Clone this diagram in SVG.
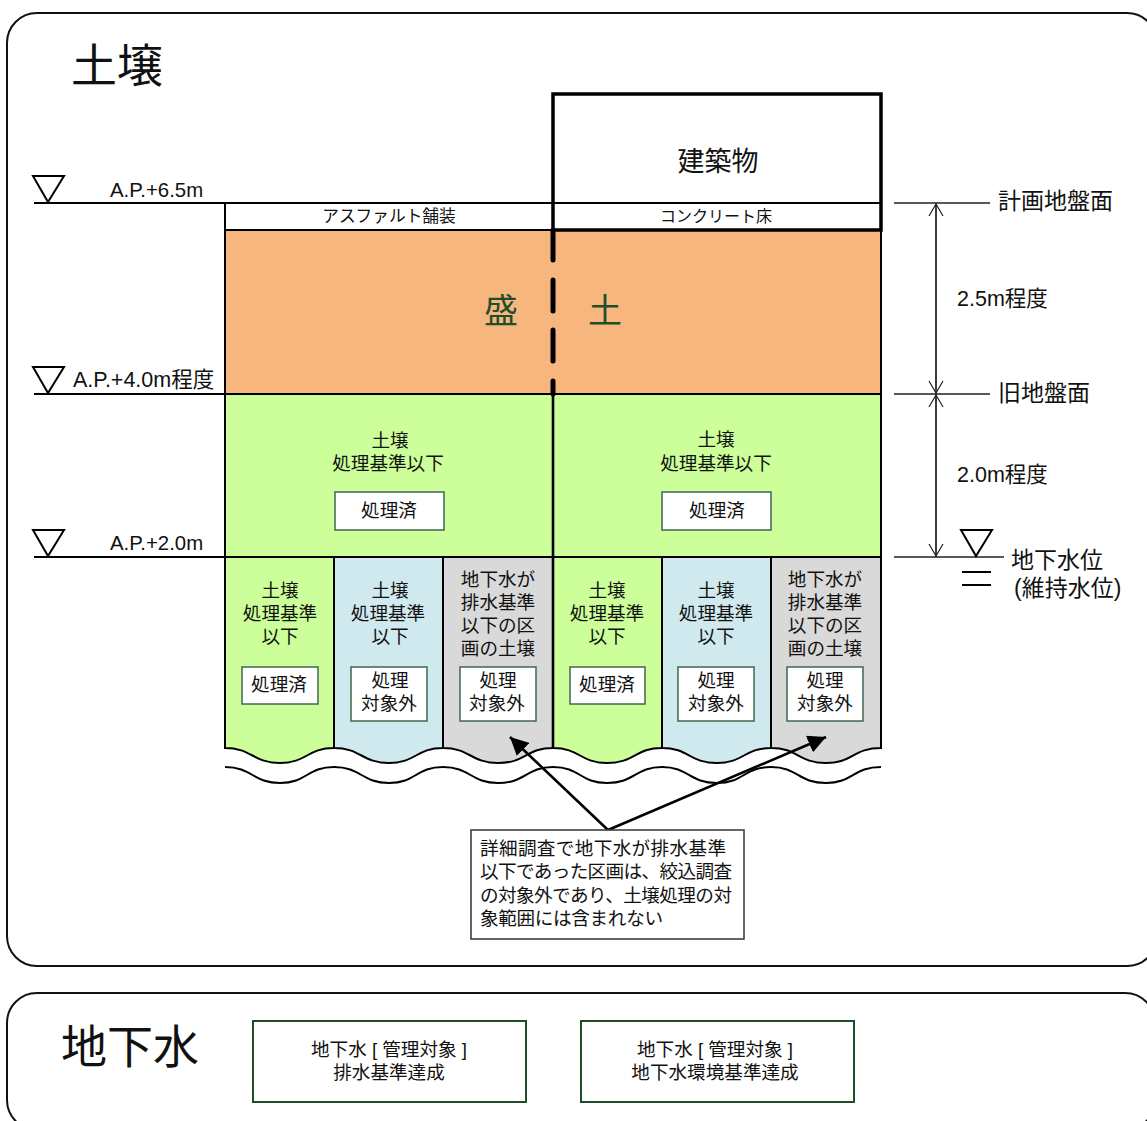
<svg xmlns="http://www.w3.org/2000/svg" width="1147" height="1121" viewBox="0 0 1147 1121">
<style>
text{font-family:"Liberation Sans","Noto Sans CJK JP",sans-serif;fill:#111;text-anchor:middle}
.s18{font-size:18.6px}.s16{font-size:16px}.s23{font-size:23px}.s20{font-size:20.4px}.s21{font-size:21.5px}
.l{text-anchor:start}
.green{fill:#1f4e28}
.panel{fill:#fff;stroke:#111;stroke-width:2}
.box{fill:#fff;stroke:#3f6650;stroke-width:1.5}
.thin{fill:none;stroke:#222;stroke-width:1.3}
.k2{fill:none;stroke:#000;stroke-width:2}
.k25{fill:none;stroke:#000;stroke-width:2.6}
.k3{fill:none;stroke:#000;stroke-width:3.5}
.tri{fill:#fff;stroke:#000;stroke-width:2}
.col{stroke:#000;stroke-width:2}
.lime{fill:#ccff99}.blue{fill:#d0e9ef}.grey{fill:#d9d9d9}
</style>
<defs>
<marker id="ah" viewBox="0 0 10 10" refX="10" refY="5" markerWidth="18" markerHeight="18" markerUnits="userSpaceOnUse" orient="auto"><path d="M0 0L10 5L0 10Z" fill="#000"/></marker>
<marker id="op" viewBox="0 0 14 16" refX="13" refY="8" markerWidth="14" markerHeight="16" markerUnits="userSpaceOnUse" orient="auto"><path d="M1 1L13 8L1 15" fill="none" stroke="#222" stroke-width="1.2"/></marker>
</defs>
<g id="panel-soil"><rect class="panel" x="7" y="13" width="1150" height="953" rx="30"/><text x="117" y="82" font-size="46">土壌</text></g>
<g id="panel-water"><rect class="panel" x="7" y="993" width="1148" height="137" rx="30"/><text x="130" y="1063" font-size="46">地下水</text></g>

<g id="fill-layers">
<rect x="225" y="230" width="656" height="164" fill="#f8b67f"/>
<rect x="225" y="394" width="656" height="163" fill="#ccff99"/>
</g>
<g id="col-1"><path class="col lime" d="M225 557H334V748C307 748 307 763 280 763C253 763 252 748 225 748Z"/>
<text class="s18" x="280" y="597">土壌</text><text class="s18" x="280" y="620">処理基準</text><text class="s18" x="280" y="643">以下</text>
<rect class="box" x="242" y="667" width="76" height="37"/><text class="s18" x="279" y="691">処理済</text></g>
<g id="col-2"><path class="col blue" d="M334 557H443V748C416 748 416 763 389 763C362 763 361 748 334 748Z"/>
<text class="s18" x="390" y="597">土壌</text><text class="s18" x="388" y="620">処理基準</text><text class="s18" x="390" y="643">以下</text>
<rect class="box" x="351" y="667" width="76" height="54"/><text class="s18" x="390" y="687">処理</text><text class="s18" x="389" y="710">対象外</text></g>
<g id="col-3"><path class="col grey" d="M443 557H553V748C526 748 526 763 498 763C471 763 470 748 443 748Z"/>
<text class="s18" x="498" y="586">地下水が</text><text class="s18" x="498" y="609">排水基準</text><text class="s18" x="498" y="632">以下の区</text><text class="s18" x="498" y="655">画の土壌</text>
<rect class="box" x="460" y="667" width="76" height="54"/><text class="s18" x="498" y="687">処理</text><text class="s18" x="497" y="710">対象外</text></g>
<g id="col-4"><path class="col lime" d="M553 557H662V748C635 748 635 763 607 763C580 763 580 748 553 748Z"/>
<text class="s18" x="607" y="597">土壌</text><text class="s18" x="607" y="620">処理基準</text><text class="s18" x="607" y="643">以下</text>
<rect class="box" x="570" y="667" width="75" height="37"/><text class="s18" x="607" y="691">処理済</text></g>
<g id="col-5"><path class="col blue" d="M662 557H771V748C744 748 744 763 717 763C689 763 689 748 662 748Z"/>
<text class="s18" x="716" y="597">土壌</text><text class="s18" x="716" y="620">処理基準</text><text class="s18" x="716" y="643">以下</text>
<rect class="box" x="678" y="667" width="76" height="54"/><text class="s18" x="716" y="687">処理</text><text class="s18" x="716" y="710">対象外</text></g>
<g id="col-6"><path class="col grey" d="M771 557H881V748C853 748 853 763 826 763C798 763 798 748 771 748Z"/>
<text class="s18" x="825" y="586">地下水が</text><text class="s18" x="825" y="609">排水基準</text><text class="s18" x="825" y="632">以下の区</text><text class="s18" x="825" y="655">画の土壌</text>
<rect class="box" x="787" y="667" width="76" height="54"/><text class="s18" x="825" y="687">処理</text><text class="s18" x="825" y="710">対象外</text></g>

<g id="break-line"><path class="k2" d="M225 767C252 767 253 783 280 783C307 783 307 767 334 767C361 767 362 783 389 783C416 783 416 767 443 767C470 767 471 783 498 783C526 783 526 767 553 767C580 767 580 783 607 783C635 783 635 767 662 767C689 767 689 783 717 783C744 783 744 767 771 767C798 767 798 783 826 783C853 783 853 767 881 767"/></g>

<g id="pavement"><rect x="225" y="203" width="328" height="27" fill="#fff"/><text x="389" y="222" font-size="16.7">アスファルト舗装</text></g>
<g id="building"><rect x="553" y="94" width="328" height="136" fill="#fff"/>
<text x="718" y="171" font-size="27">建築物</text><text class="s16" x="716" y="222">コンクリート床</text></g>
<g id="fill-labels">
<text class="green" x="501" y="323" font-size="34">盛</text><text class="green" x="605" y="323" font-size="34">土</text>
<text class="s18" x="390" y="447">土壌</text><text class="s18" x="388" y="470">処理基準以下</text>
<rect class="box" x="335" y="492" width="109" height="38"/><text class="s18" x="389" y="517">処理済</text>
<text class="s18" x="716" y="446">土壌</text><text class="s18" x="716" y="470">処理基準以下</text>
<rect class="box" x="662" y="492" width="109" height="38"/><text class="s18" x="717" y="517">処理済</text>
</g>

<g id="connectors">
<path class="k2" d="M225 203V748M881 230V748M225 230H881M225 394H881M225 557H881M334 557V748M443 557V748M662 557V748M771 557V748"/>
<path class="k2" d="M34 203H553M34 394H225M34 557H225M553 203H881"/>
<path class="k25" d="M553 394V748"/>
<path class="k3" d="M553 94H881V230H553Z"/>
<path d="M553 230V260M553 280V311M553 330V361M553 381V394" fill="none" stroke="#000" stroke-width="5" stroke-linecap="round"/>
<path class="thin" d="M894 203H990M894 394H990M894 557H1004"/>
<path class="thin" d="M936 394V204" marker-end="url(#op)"/>
<path class="thin" d="M936 204V393" marker-end="url(#op)"/>
<path class="thin" d="M936 557V395" marker-end="url(#op)"/>
<path class="thin" d="M936 395V556" marker-end="url(#op)"/>
<path class="k2" d="M962 572H991M962 585H991"/>
<path class="k25" d="M608 830L510 737" marker-end="url(#ah)"/>
<path class="k25" d="M608 830L826 737" marker-end="url(#ah)"/>
</g>

<g id="levels">
<path class="tri" d="M33 176H64L48 202Z"/><text class="s20 l" x="110" y="197">A.P.+6.5m</text>
<path class="tri" d="M33 367H64L48 393Z"/><text class="s21 l" x="73" y="387">A.P.+4.0m程度</text>
<path class="tri" d="M33 530H64L48 556Z"/><text class="s20 l" x="110" y="550">A.P.+2.0m</text>
<path class="tri" d="M961 530H992L976 556Z"/>
</g>
<g id="dim-labels">
<text class="s23 l" x="998" y="209">計画地盤面</text>
<text class="s23 l" x="998" y="401">旧地盤面</text>
<text class="s21 l" x="957" y="306">2.5m程度</text>
<text class="s21 l" x="957" y="482">2.0m程度</text>
<text class="s23 l" x="1011" y="568">地下水位</text>
<text class="s23 l" x="1014" y="596">(維持水位)</text>
</g>
<g id="note"><rect x="471" y="830" width="273" height="109" fill="#fff" stroke="#333" stroke-width="1.5"/>
<text class="l" font-size="18.6" x="480" y="855" textLength="246">詳細調査で地下水が排水基準</text>
<text class="l" font-size="18.6" x="480" y="878" textLength="252">以下であった区画は、絞込調査</text>
<text class="l" font-size="18.6" x="480" y="902" textLength="252">の対象外であり、土壌処理の対</text>
<text class="l" font-size="18.6" x="480" y="925" textLength="183">象範囲には含まれない</text></g>
<g id="gw-1"><rect x="253" y="1021" width="273" height="81" fill="#fff" stroke="#1f4e28" stroke-width="2"/><text class="s18" x="389" y="1056">地下水 [ 管理対象 ]</text><text class="s18" x="389" y="1079">排水基準達成</text></g>
<g id="gw-2"><rect x="581" y="1021" width="273" height="81" fill="#fff" stroke="#1f4e28" stroke-width="2"/><text class="s18" x="715" y="1056">地下水 [ 管理対象 ]</text><text class="s18" x="715" y="1079">地下水環境基準達成</text></g>
</svg>
